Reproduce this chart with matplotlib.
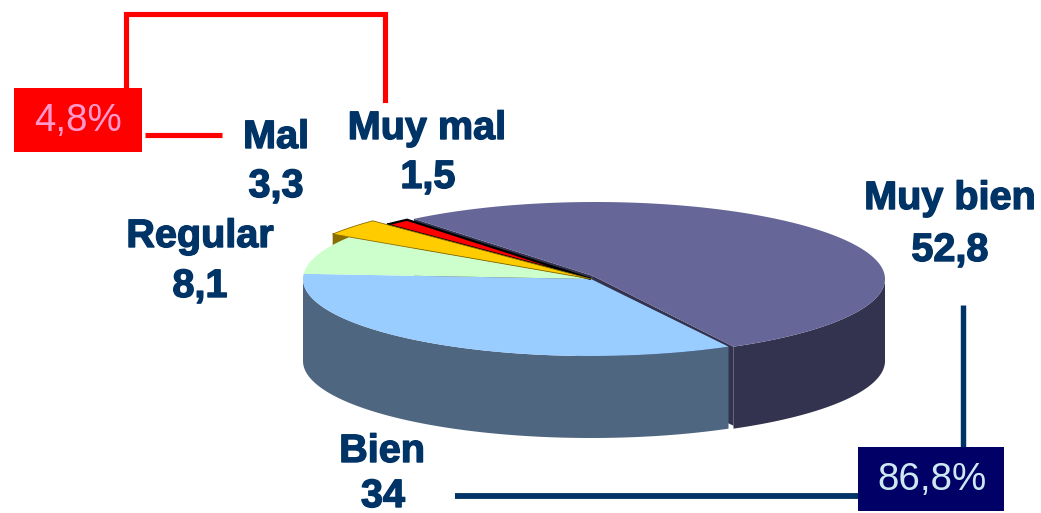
import numpy as np
import matplotlib
matplotlib.use('Agg')
import matplotlib.pyplot as plt
import matplotlib.patheffects as pe
from matplotlib.patches import Rectangle

categories = ['Muy bien', 'Bien', 'Regular', 'Mal', 'Muy mal']
values = [52.8, 34, 8.1, 3.3, 1.5]
value_labels = ['52,8', '34', '8,1', '3,3', '1,5']
group_labels = ['86,8%', '4,8%']

W, H = 1041, 513
NAVY = '#003366'
LABEL_FONT = 'Liberation Sans'
top_colors = ['#666699', '#99ccff', '#ccffcc', '#ffcc00', '#ff0000']
side_colors = ['#33334f', '#4e6680', '#668066', '#8a6d00', '#800000']

# pie geometry, in pixels of the picture
depth = 82
ry = 77
cy = 279
start = 128.6
big = dict(cx=595, rx=290)
rest = dict(cx=591, rx=288)
radius_scale = [1, 1, 1, 1.07, 1]
big_apex = (big['cx'] - 2, cy - 3)


def arc(cx, rx, a0, a1, scale=1, dy=0):
    a = np.radians(np.linspace(a0, a1, 200))
    return cx + rx * scale * np.cos(a), cy - ry * scale * np.sin(a) + dy


fig = plt.figure(figsize=(W / 100, H / 100), dpi=100)
ax = fig.add_axes([0, 0, 1, 1])
ax.set_xlim(0, W)
ax.set_ylim(H, 0)
ax.axis('off')

# slice angles come from the values, clockwise from start
edges = start - np.cumsum([0] + values) * 3.6
a_big0, a_big1 = edges[0], edges[1]

# cut faces of the big slice, they show as thin dark bands
for a in (a_big0, a_big1):
    xa, ya = arc(big['cx'], big['rx'], a, a, 1)
    ax.fill([big_apex[0], xa[0], xa[0], rest['cx'], rest['cx']],
            [big_apex[1], ya[0], ya[0] + depth - 3, cy + depth, cy],
            color=side_colors[0], lw=0, zorder=1)

# outer wall of big slice, front part only
xa, ya = arc(big['cx'], big['rx'], 0, a_big1)
ax.fill(np.r_[xa, xa[::-1]], np.r_[ya, ya[::-1] + depth], color=side_colors[0], lw=0, zorder=1)

# outer wall of Bien
xa, ya = arc(rest['cx'], rest['rx'], edges[1], -180)
ax.fill(np.r_[xa, xa[::-1]], np.r_[ya, ya[::-1] + depth], color=side_colors[1], lw=0, zorder=2)

# small brown side below the yellow slice
xa, ya = arc(rest['cx'], rest['rx'], edges[3], edges[3], radius_scale[3])
ax.fill([xa[0], xa[0] + 16, xa[0] + 16, xa[0]], [ya[0] - 1, ya[0] + 3, ya[0] + 12, ya[0] + 12],
        color=side_colors[3], lw=0, zorder=2)

# top faces
for i in range(1, 5):
    xa, ya = arc(rest['cx'], rest['rx'], edges[i], edges[i + 1], radius_scale[i])
    xs = np.r_[rest['cx'], xa]
    ys = np.r_[cy, ya]
    if categories[i] == 'Muy mal':
        ax.fill(xs, ys, facecolor=top_colors[i], edgecolor='black', lw=1.6, joinstyle='miter', zorder=3)
    elif categories[i] == 'Mal':
        ax.fill(xs, ys, facecolor=top_colors[i], edgecolor=side_colors[i], lw=0.6, zorder=3.2)
    else:
        ax.fill(xs, ys, color=top_colors[i], lw=0, zorder=3)

xa, ya = arc(big['cx'], big['rx'], a_big0, a_big1)
ax.fill(np.r_[big_apex[0], xa], np.r_[big_apex[1], ya], color=top_colors[0], lw=0, zorder=4)

# brackets joining the labels to the boxes
ax.plot([126, 126, 385, 385], [88, 14, 14, 100], color='#ff0000', lw=3.7, solid_joinstyle='miter', zorder=5)
ax.plot([145, 222], [135, 135], color='#ff0000', lw=3.7, solid_capstyle='butt', zorder=5)
ax.plot([963, 963], [305, 447], color=NAVY, lw=3.9, solid_capstyle='butt', zorder=5)
ax.plot([455, 860], [496, 496], color=NAVY, lw=4.2, solid_capstyle='butt', zorder=5)

ax.add_patch(Rectangle((14, 88), 128, 64, color='#ff0000', lw=0, zorder=6))
ax.add_patch(Rectangle((858, 447), 146, 64, color='#000066', lw=0, zorder=6))
ax.text(78, 121, group_labels[1], color='#ff99cc', fontsize=27.7, family=LABEL_FONT,
        ha='center', va='center', zorder=7)
ax.text(932, 480, group_labels[0], color='#cce8f0', fontsize=27.7, family=LABEL_FONT,
        ha='center', va='center', zorder=7)

# slice labels, a thin stroke makes them as heavy as the original font
heavy = [pe.withStroke(linewidth=1.0, foreground=NAVY)]
name_pos = [(950, 198), (382, 451), (200, 236), (276, 137), (427, 128)]
value_pos = [(950, 250), (383, 496), (200, 286), (276, 186), (428, 177)]
for name, val, p, q in zip(categories, value_labels, name_pos, value_pos):
    ax.text(p[0], p[1], name, color=NAVY, fontsize=28.5, fontweight='bold', family=LABEL_FONT,
            ha='center', va='center', path_effects=heavy, zorder=7)
    ax.text(q[0], q[1], val, color=NAVY, fontsize=28.5, fontweight='bold', family=LABEL_FONT,
            ha='center', va='center', path_effects=heavy, zorder=7)

fig.savefig('out.png', dpi=100)
